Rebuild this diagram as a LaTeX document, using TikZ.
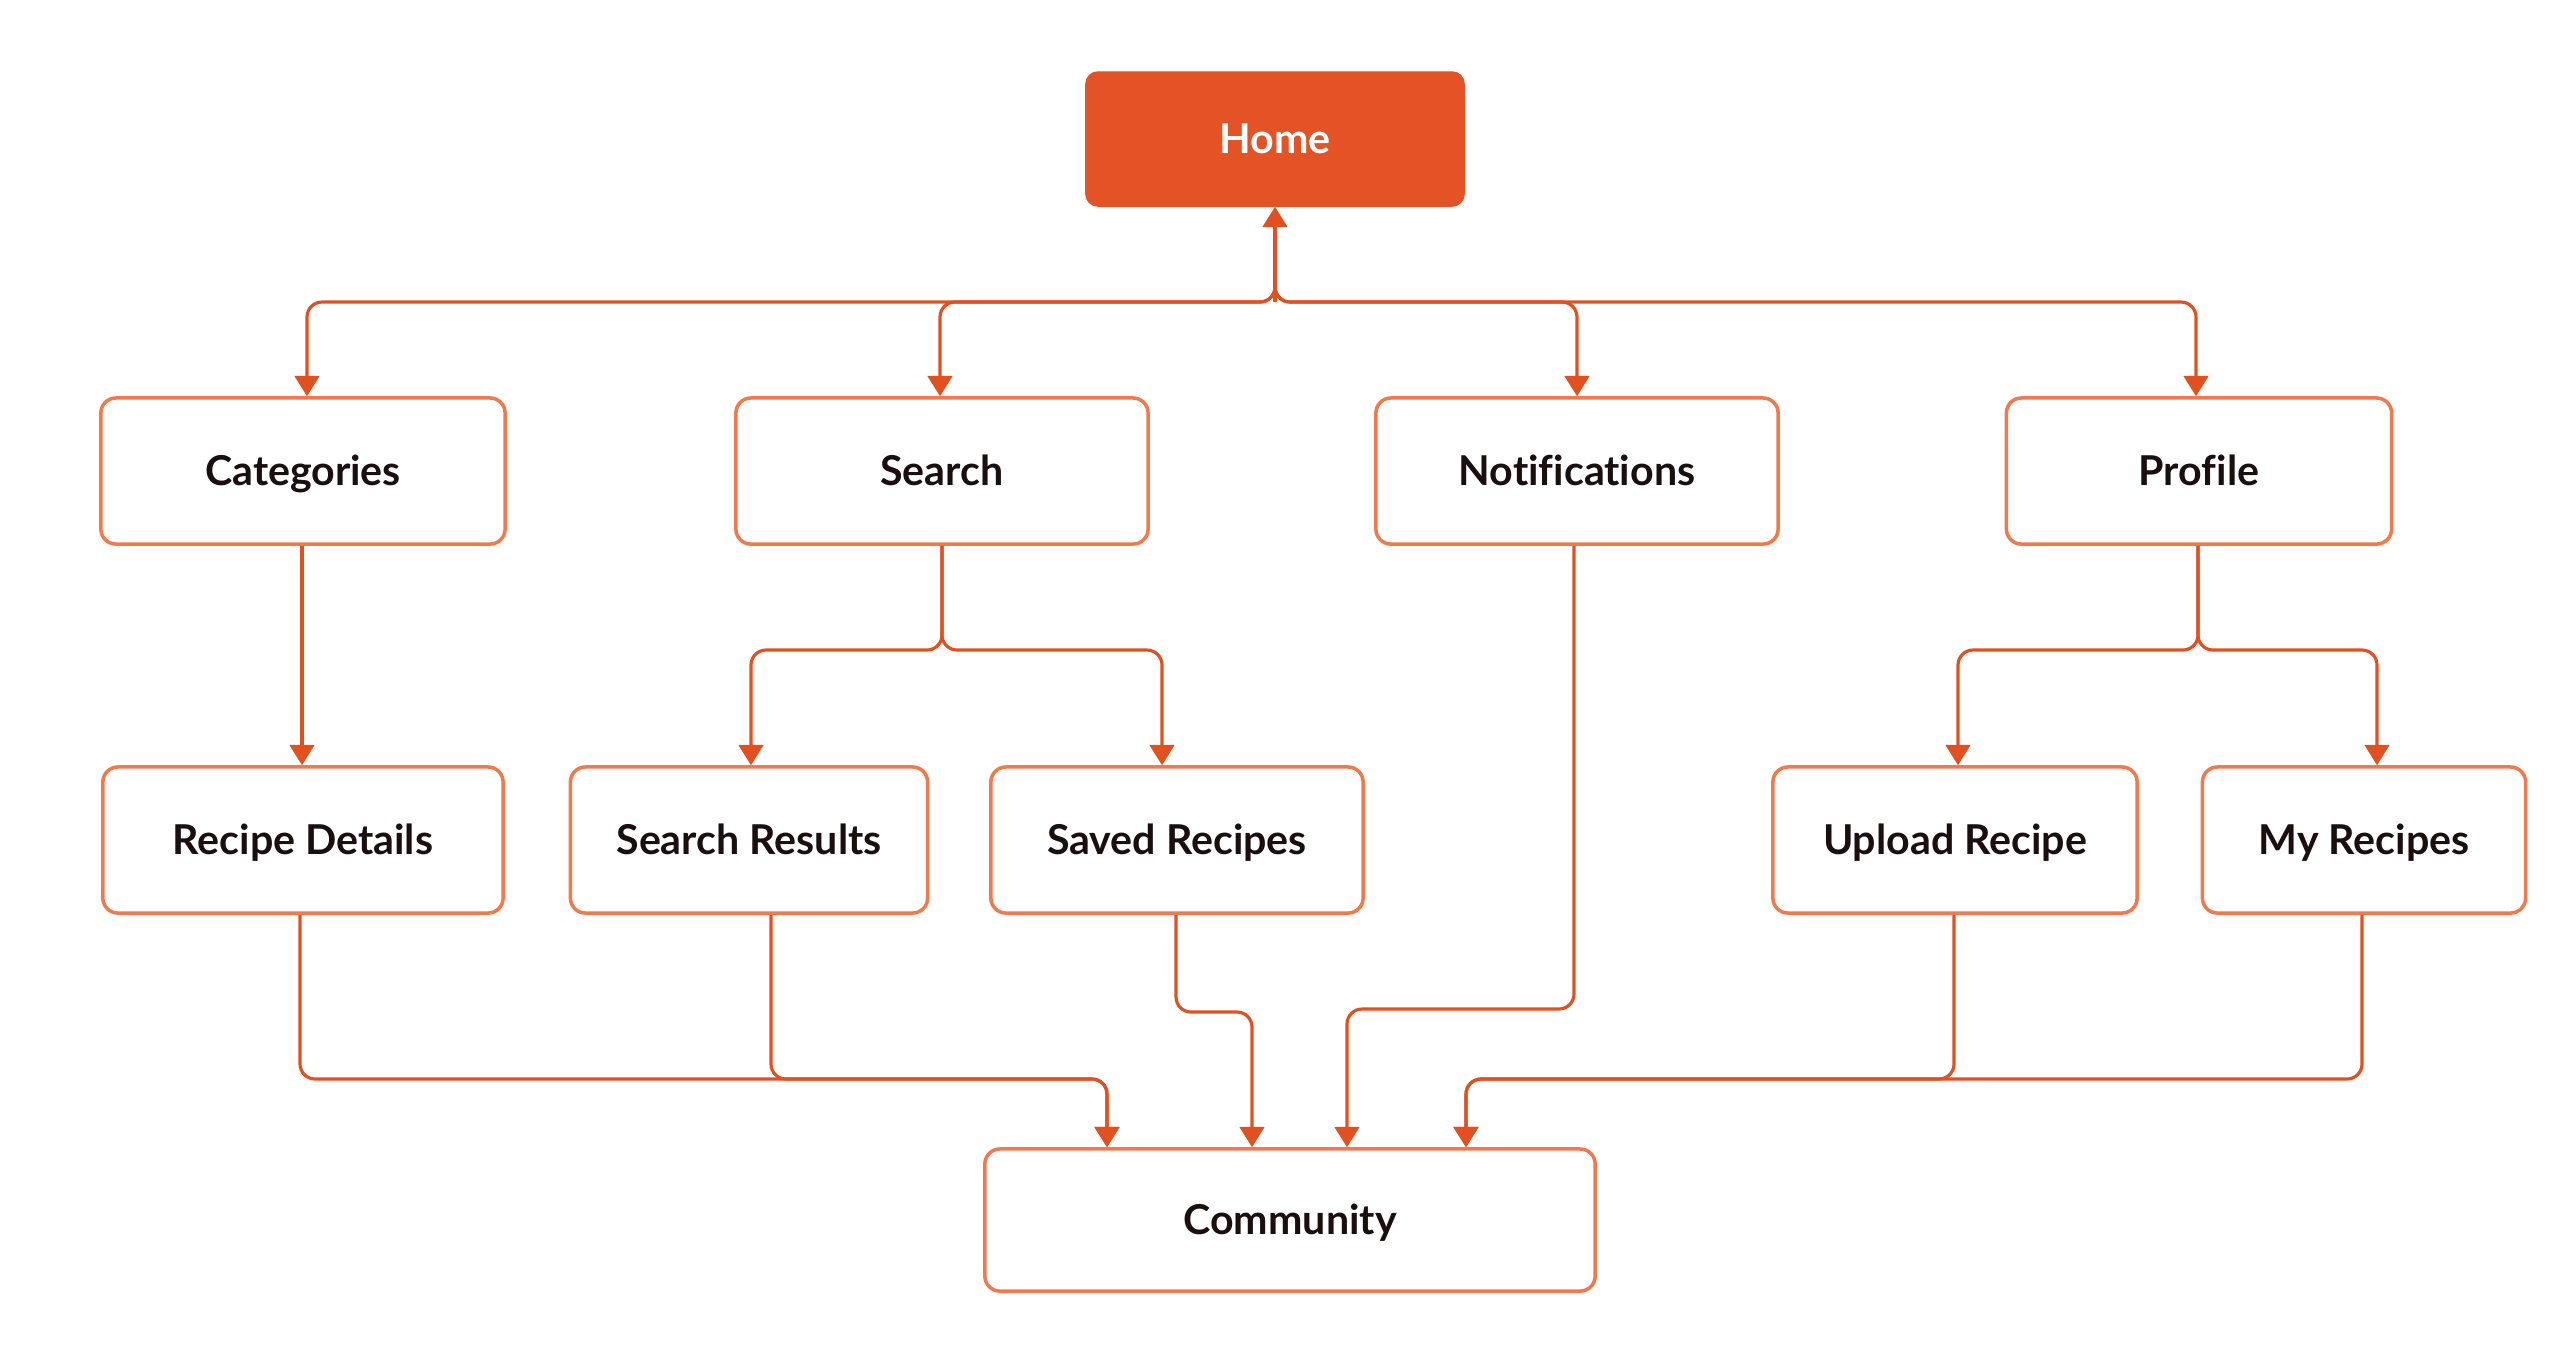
\documentclass[tikz,border=0pt]{standalone}
\usepackage{fontspec}
\setmainfont{Lato}[Ligatures=NoCommon]
\usetikzlibrary{arrows.meta}
\definecolor{accent}{HTML}{E2501F}
\definecolor{homefill}{HTML}{E35325}
\definecolor{boxline}{HTML}{F07A4C}
\definecolor{txt}{HTML}{1A0E0E}
\tikzset{
  box/.style={draw=boxline, line width=1pt, rounded corners=0.15cm, fill=white,
    minimum height=1.46cm, inner sep=0pt, text=txt, text height=0.9em, text depth=0.06em,
    font=\fontsize{11.7}{13}\selectfont\bfseries},
  homebox/.style={fill=homefill, draw=homefill, rounded corners=0.12cm,
    minimum width=3.78cm, minimum height=1.34cm, inner sep=0pt, text=white,
    text height=0.9em, text depth=0.06em,
    font=\fontsize{11.7}{13}\selectfont\bfseries},
  conn/.style={draw=accent, line width=0.9pt, rounded corners=0.15cm,
    -{Triangle[width=7pt,length=5.8pt]}},
}
\begin{document}
\begin{tikzpicture}[x=0.01cm,y=-0.01cm]
\useasboundingbox (0,0) rectangle (2560,1365);
% nodes
\node[homebox] (home) at (1275,139) {Home};
\node[box, minimum width=4.04cm] (cat) at (303,471) {Categories};
\node[box, minimum width=4.12cm] (search) at (942,471) {Search};
\node[box, minimum width=4.02cm] (notif) at (1577,471) {Notifications};
\node[box, minimum width=3.85cm] (profile) at (2199,471) {Profile};
\node[box, minimum width=4.00cm] (rd) at (303,840) {Recipe Details};
\node[box, minimum width=3.57cm] (sr) at (749,840) {Search Results};
\node[box, minimum width=3.72cm] (saved) at (1177,840) {Saved Recipes};
\node[box, minimum width=3.64cm] (upload) at (1955,840) {Upload Recipe};
\node[box, minimum width=3.23cm] (myr) at (2364,840) {My Recipes};
\node[box, minimum width=6.10cm, minimum height=1.42cm] (comm) at (1290,1220) {Community};
% bus coordinates
\coordinate (bus) at (1275,302);
\coordinate (ssplit) at (942,650);
\coordinate (psplit) at (2198,650);
% Home bus
\draw[conn] (bus) -- (home.south);
\draw[conn] (1275,270) -- (bus) -| (cat.north -| 307,0);
\draw[conn] (1275,270) -- (bus) -| (search.north -| 940,0);
\draw[conn] (1275,270) -- (bus) -| (notif.north -| 1577,0);
\draw[conn] (1275,270) -- (bus) -| (profile.north -| 2196,0);
% Categories -> Recipe details
\draw[conn] (cat.south -| 302,0) -- (rd.north -| 302,0);
% Search split
\draw[conn] (search.south) -- (ssplit) -| (sr.north -| 751,0);
\draw[conn] (search.south) -- (ssplit) -| (saved.north -| 1162,0);
% Profile split
\draw[conn] (profile.south -| psplit) -- (psplit) -| (upload.north -| 1958,0);
\draw[conn] (profile.south -| psplit) -- (psplit) -| (myr.north -| 2377,0);
% To community
\draw[conn] (rd.south -| 300,0) -- (300,1079) -| (comm.north -| 1107,0);
\draw[conn] (sr.south -| 771,0) -- (771,1079) -| (comm.north -| 1107,0);
\draw[conn] (saved.south -| 1176,0) -- (1176,1012) -| (comm.north -| 1252,0);
\draw[conn] (notif.south -| 1574,0) -- (1574,1009) -| (comm.north -| 1347,0);
\draw[conn] (upload.south -| 1954,0) -- (1954,1079) -| (comm.north -| 1466,0);
\draw[conn] (myr.south -| 2362,0) -- (2362,1079) -| (comm.north -| 1466,0);
\end{tikzpicture}
\end{document}
